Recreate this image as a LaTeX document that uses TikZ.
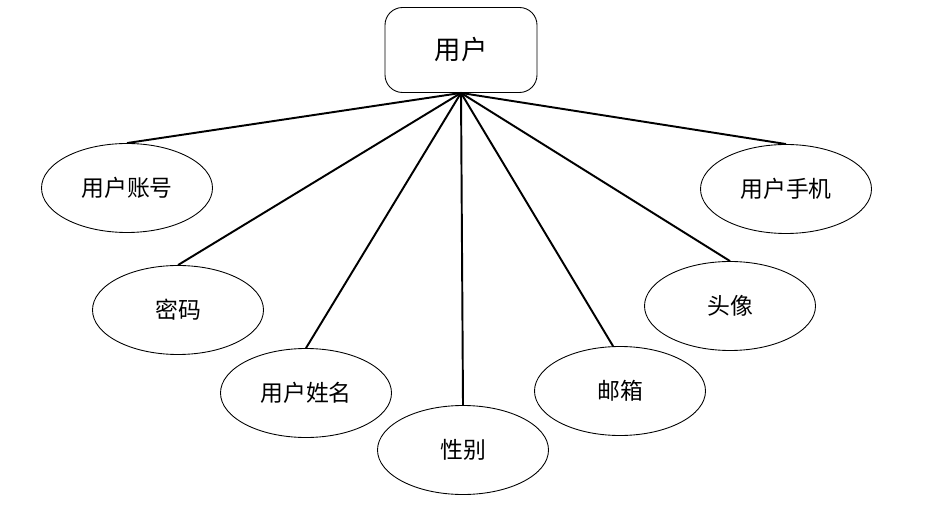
\documentclass[tikz,border=0pt]{standalone}
\usepackage{fontspec}
\newfontfamily\cjk{Noto Sans CJK SC}
\usetikzlibrary{shapes.geometric}

\tikzset{
  attr/.style={draw, ellipse, line width=0.5pt, minimum width=3.42cm, minimum height=1.78cm, font=\cjk\fontsize{13}{15}\selectfont},
  entity/.style={draw, rounded corners=10pt, line width=0.5pt, minimum width=3.04cm, minimum height=1.7cm, font=\cjk\fontsize{15}{17}\selectfont},
  link/.style={line width=1.1pt}
}

\begin{document}
\begin{tikzpicture}
        \useasboundingbox (0,0) rectangle (18.6,-10.2);

        \node[entity] (yonghu) at (9.22,-1.0) {用户};

        \node[attr] (zhanghao) at (2.54,-3.76) {用户账号};
        \node[attr] (shouji) at (15.72,-3.78) {用户手机};
        \node[attr] (mima) at (3.56,-6.2) {密码};
        \node[attr] (touxiang) at (14.6,-6.12) {头像};
        \node[attr] (xingming) at (6.12,-7.86) {用户姓名};
        \node[attr] (youxiang) at (12.4,-7.82) {邮箱};
        \node[attr] (xingbie) at (9.26,-9.0) {性别};

        \draw[link] (yonghu.south) -- (zhanghao.north);
        \draw[link] (yonghu.south) -- (shouji.north);
        \draw[link] (yonghu.south) -- (mima.north);
        \draw[link] (yonghu.south) -- (touxiang.north);
        \draw[link] (yonghu.south) -- (xingming.north);
        \draw[link] (yonghu.south) -- ([xshift=-0.14cm]youxiang.north);
        \draw[link] (yonghu.south) -- (xingbie.north);
      \end{tikzpicture}
\end{document}
